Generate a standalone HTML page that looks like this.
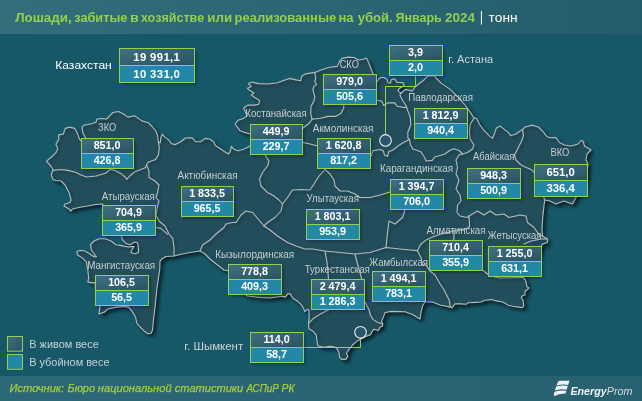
<!DOCTYPE html>
<html><head><meta charset="utf-8"><title>map</title>
<style>
html,body{margin:0;padding:0;background:#165868;}
body{width:642px;height:401px;overflow:hidden;font-family:"Liberation Sans",sans-serif;}
svg{display:block}
text{font-family:"Liberation Sans",sans-serif;}
text{opacity:0.999}
</style></head><body>
<svg width="642" height="401" viewBox="0 0 642 401">
<defs>
<linearGradient id="bgg" x1="0" y1="0" x2="1" y2="0"><stop offset="0" stop-color="#165868"/><stop offset="1" stop-color="#165868"/></linearGradient>
<linearGradient id="hdr" x1="0" y1="0" x2="1" y2="0"><stop offset="0" stop-color="#346e7a"/><stop offset="1" stop-color="#245c6b"/></linearGradient>
<linearGradient id="ftr" x1="0" y1="0" x2="1" y2="0"><stop offset="0" stop-color="#2c6878"/><stop offset="1" stop-color="#28606f"/></linearGradient>
<linearGradient id="top" x1="0" y1="0" x2="1" y2="1"><stop offset="0" stop-color="#3f7080"/><stop offset="1" stop-color="#285363"/></linearGradient>
<filter id="sh" x="-5%" y="-5%" width="112%" height="112%"><feGaussianBlur in="SourceAlpha" stdDeviation="2.2"/><feOffset dx="2.5" dy="2.5"/><feComponentTransfer><feFuncA type="linear" slope="0.6"/></feComponentTransfer><feMerge><feMergeNode/><feMergeNode in="SourceGraphic"/></feMerge></filter>
<filter id="sh2" x="-20%" y="-20%" width="150%" height="150%"><feGaussianBlur in="SourceAlpha" stdDeviation="1.5"/><feOffset dx="1.8" dy="1.8"/><feComponentTransfer><feFuncA type="linear" slope="0.3"/></feComponentTransfer><feMerge><feMergeNode/><feMergeNode in="SourceGraphic"/></feMerge></filter>
</defs>
<rect width="642" height="401" fill="url(#bgg)"/>
<rect width="642" height="34" fill="url(#hdr)"/>
<rect y="376" width="642" height="25" fill="url(#ftr)"/>

<g filter="url(#sh)"><polygon points="46.5,161.1 51.2,157.3 55.9,152.7 57.8,148.9 55.9,144.3 58.7,139.6 58.7,134.9 63.4,134 65.2,128.4 69.9,127.1 74.6,128.4 77.4,133 79.3,138.6 81.5,141.4 84.5,141.5 85.8,138.3 83,133 82,127.4 83.9,125.2 91.4,123.7 96.1,122.2 97,119 101.7,118.5 106.4,119 110.1,115.3 112.9,112.5 118.5,111.5 124.1,114.3 127.9,117.1 134.4,115.8 138.1,118.1 141.9,120.9 148.4,122.8 152.1,126.5 155.9,131.2 157.5,135.2 158.4,141.8 160.3,142.7 160.8,138 162.1,134.3 165,137.1 168.7,139.9 171.5,143.6 175.2,144.6 180.8,141.8 185.5,138 192.1,137.7 195.8,141.8 200.5,141.8 205.1,138.4 209.8,139 213.6,141.8 215.4,145.5 221,149.3 226.6,153 228.5,153.9 230.4,151.1 231.3,146.4 234.1,149.3 237.9,150.7 243.5,149.3 249.1,146.4 251,145.5 252,140 251,134.3 244.4,132.4 239.7,130.6 237.9,127.8 235,124 237.9,120.3 243.5,118.4 247.2,115.6 245.3,111.9 243.7,108 247.5,105.1 254,105.1 258.7,104.2 259.6,100.5 255,97.7 251.2,94.9 254,93 249.3,90.2 247.5,88.3 251.2,86.4 248.4,83.6 252.1,82.1 258.7,83.6 268,84 277.4,82.7 284.9,79.9 289.5,78.4 296.1,79.9 300.7,80.8 301.7,76.2 305.4,73.9 314.8,72.4 322.2,69.6 329.7,67.2 337.2,66.4 339.1,62.1 341.9,58.4 348.4,57.1 354,57.5 359,60 364,59 366,58 367.5,60 370.6,67.5 372.5,72.5 375,77 377,82 378.75,78.75 381,77.5 384,77.5 387,79.4 388,82.5 390.6,83 391,80 394,78.75 395.6,80 397,82.5 402.5,82.5 404,84 403.75,86 400,88 398,90 399,92 401,93 405.6,89.4 408,90 410.6,90.6 412.5,91 415,87 417.5,85 420,83 424,80 426,77.5 429,76 435,76 435.6,77.5 441.2,83.1 450.6,89.6 458,97.1 465.5,105.5 470.2,112.1 473.9,117.7 476.7,118.6 479.5,124.2 484.2,130.7 489.8,136.4 492.6,138.2 494.5,133.6 496.4,127.9 500.1,126.1 503.8,128.9 508.5,132.6 510.4,135.4 515,134.5 519.7,131.3 522.5,129.4 525.3,127 531.9,125.1 538.4,127 543.1,131.7 546.8,136.4 550,137.7 556,137.5 559.5,142.5 564.5,145 571,146 578,144 581,140.5 583,141 584.5,146 589.5,149 591,150 587,154 586,160 588,164 586,180 580,192 576,197.5 572.5,204 564,201 556,204 550,201 545,200 544,205 542.5,220 542,230 542.5,236 547.5,239 547.5,242.5 542.5,244 541,247 535,262 522.5,277 525.6,280 526,281.9 526.9,286.5 528.8,287.9 527.8,289.3 525,291.2 525,295 522.2,295.9 521.3,297.8 523.2,300.6 523.7,306.2 522.2,307.7 518.5,307.1 512.9,306.2 508.2,305.2 505.4,303.4 502.6,302 496,300.9 492.3,299.6 484.9,300.2 481.1,302 475.5,302.4 468,302.8 466.2,304.3 460.6,303.9 455,303.9 452.1,307.7 450.3,307.1 445,306 440,305 432.5,302 425,302 422.5,306 421,312.5 420,319 412.5,314.5 405,311.8 400,311.6 390.4,311.4 384.9,312.7 383.5,316.9 381.4,321.7 382.8,323.7 382.4,326.2 380.1,327.1 378,330.6 373.9,329.2 371.8,331.9 370.5,334.7 367,336.1 362.9,338.1 357.4,340.9 352.6,345 349.2,349.1 346.5,353.2 347.8,356.6 345.8,359.4 341.7,359.4 339.6,357.3 338.9,352.5 336.9,348.4 334.1,346.8 330,346.4 323.4,347.3 317.8,345.7 317,340.9 316.2,335.2 312.9,331.2 308.9,328.7 308.5,323.1 309.2,317.4 308.9,310.1 307.2,309.3 304.8,311.7 304,309.3 301.6,305.2 297.5,301.2 292.7,298 290.2,293.9 287.8,293.9 285.4,297.1 282.1,296.3 270,298 260,297.5 247.5,296 240,290 234,280 229,271 224,270 217.5,265 210,259 205,254 200,251 190,252.5 180,254.5 174,256 166,256.5 162.5,258.4 160,261 159.7,270 158.8,275.6 156.9,288.7 155,307.4 153.2,322.3 152.6,329.8 151.3,333.2 147.6,333.6 143.8,330.7 140.1,327 136.9,323.3 135.4,316.7 132.6,312.1 128.9,307.4 124.2,306.4 114.9,307.4 107.4,309.3 104.6,312.1 99,313.9 99.9,306.4 96,303 95.2,283.1 87.8,282.1 88.7,278.4 87.8,270 86.3,261.8 82.8,258.4 77.7,255 76.8,252 79.4,250.4 84.5,250.7 88.8,253.3 94,256.7 96.5,256.7 94.8,255 91.4,249.8 90.5,244.7 94,241 99,238.7 105,238.7 111,241 116,244.7 121.4,245.6 128,247 134,246.4 132.5,249 130.8,252.4 135,253.8 138.5,252.4 138.5,249 137.7,243 135,242 130,244.7 126.5,243.8 122.3,239.6 121.4,236 115,220 102.5,204 96,204.5 87.5,206 79,207.5 72.5,209 71,211 69,209 64,206 65,204 70,202.5 71,200 69,192.5 65,185 61,181 56,180.5 53.1,179.8 51.2,175.1 52.1,172.3 53.1,169.5 50.3,165.7" fill="#204e5a"/></g>
<g fill="none" stroke="#b3bab9" stroke-width="1.1" stroke-linejoin="round" stroke-linecap="round" filter="url(#sh2)">
<polygon points="46.5,161.1 51.2,157.3 55.9,152.7 57.8,148.9 55.9,144.3 58.7,139.6 58.7,134.9 63.4,134 65.2,128.4 69.9,127.1 74.6,128.4 77.4,133 79.3,138.6 81.5,141.4 84.5,141.5 85.8,138.3 83,133 82,127.4 83.9,125.2 91.4,123.7 96.1,122.2 97,119 101.7,118.5 106.4,119 110.1,115.3 112.9,112.5 118.5,111.5 124.1,114.3 127.9,117.1 134.4,115.8 138.1,118.1 141.9,120.9 148.4,122.8 152.1,126.5 155.9,131.2 157.5,135.2 158.4,141.8 160.3,142.7 160.8,138 162.1,134.3 165,137.1 168.7,139.9 171.5,143.6 175.2,144.6 180.8,141.8 185.5,138 192.1,137.7 195.8,141.8 200.5,141.8 205.1,138.4 209.8,139 213.6,141.8 215.4,145.5 221,149.3 226.6,153 228.5,153.9 230.4,151.1 231.3,146.4 234.1,149.3 237.9,150.7 243.5,149.3 249.1,146.4 251,145.5 252,140 251,134.3 244.4,132.4 239.7,130.6 237.9,127.8 235,124 237.9,120.3 243.5,118.4 247.2,115.6 245.3,111.9 243.7,108 247.5,105.1 254,105.1 258.7,104.2 259.6,100.5 255,97.7 251.2,94.9 254,93 249.3,90.2 247.5,88.3 251.2,86.4 248.4,83.6 252.1,82.1 258.7,83.6 268,84 277.4,82.7 284.9,79.9 289.5,78.4 296.1,79.9 300.7,80.8 301.7,76.2 305.4,73.9 314.8,72.4 322.2,69.6 329.7,67.2 337.2,66.4 339.1,62.1 341.9,58.4 348.4,57.1 354,57.5 359,60 364,59 366,58 367.5,60 370.6,67.5 372.5,72.5 375,77 377,82 378.75,78.75 381,77.5 384,77.5 387,79.4 388,82.5 390.6,83 391,80 394,78.75 395.6,80 397,82.5 402.5,82.5 404,84 403.75,86 400,88 398,90 399,92 401,93 405.6,89.4 408,90 410.6,90.6 412.5,91 415,87 417.5,85 420,83 424,80 426,77.5 429,76 435,76 435.6,77.5 441.2,83.1 450.6,89.6 458,97.1 465.5,105.5 470.2,112.1 473.9,117.7 476.7,118.6 479.5,124.2 484.2,130.7 489.8,136.4 492.6,138.2 494.5,133.6 496.4,127.9 500.1,126.1 503.8,128.9 508.5,132.6 510.4,135.4 515,134.5 519.7,131.3 522.5,129.4 525.3,127 531.9,125.1 538.4,127 543.1,131.7 546.8,136.4 550,137.7 556,137.5 559.5,142.5 564.5,145 571,146 578,144 581,140.5 583,141 584.5,146 589.5,149 591,150 587,154 586,160 588,164 586,180 580,192 576,197.5 572.5,204 564,201 556,204 550,201 545,200 544,205 542.5,220 542,230 542.5,236 547.5,239 547.5,242.5 542.5,244 541,247 535,262 522.5,277 525.6,280 526,281.9 526.9,286.5 528.8,287.9 527.8,289.3 525,291.2 525,295 522.2,295.9 521.3,297.8 523.2,300.6 523.7,306.2 522.2,307.7 518.5,307.1 512.9,306.2 508.2,305.2 505.4,303.4 502.6,302 496,300.9 492.3,299.6 484.9,300.2 481.1,302 475.5,302.4 468,302.8 466.2,304.3 460.6,303.9 455,303.9 452.1,307.7 450.3,307.1 445,306 440,305 432.5,302 425,302 422.5,306 421,312.5 420,319 412.5,314.5 405,311.8 400,311.6 390.4,311.4 384.9,312.7 383.5,316.9 381.4,321.7 382.8,323.7 382.4,326.2 380.1,327.1 378,330.6 373.9,329.2 371.8,331.9 370.5,334.7 367,336.1 362.9,338.1 357.4,340.9 352.6,345 349.2,349.1 346.5,353.2 347.8,356.6 345.8,359.4 341.7,359.4 339.6,357.3 338.9,352.5 336.9,348.4 334.1,346.8 330,346.4 323.4,347.3 317.8,345.7 317,340.9 316.2,335.2 312.9,331.2 308.9,328.7 308.5,323.1 309.2,317.4 308.9,310.1 307.2,309.3 304.8,311.7 304,309.3 301.6,305.2 297.5,301.2 292.7,298 290.2,293.9 287.8,293.9 285.4,297.1 282.1,296.3 270,298 260,297.5 247.5,296 240,290 234,280 229,271 224,270 217.5,265 210,259 205,254 200,251 190,252.5 180,254.5 174,256 166,256.5 162.5,258.4 160,261 159.7,270 158.8,275.6 156.9,288.7 155,307.4 153.2,322.3 152.6,329.8 151.3,333.2 147.6,333.6 143.8,330.7 140.1,327 136.9,323.3 135.4,316.7 132.6,312.1 128.9,307.4 124.2,306.4 114.9,307.4 107.4,309.3 104.6,312.1 99,313.9 99.9,306.4 96,303 95.2,283.1 87.8,282.1 88.7,278.4 87.8,270 86.3,261.8 82.8,258.4 77.7,255 76.8,252 79.4,250.4 84.5,250.7 88.8,253.3 94,256.7 96.5,256.7 94.8,255 91.4,249.8 90.5,244.7 94,241 99,238.7 105,238.7 111,241 116,244.7 121.4,245.6 128,247 134,246.4 132.5,249 130.8,252.4 135,253.8 138.5,252.4 138.5,249 137.7,243 135,242 130,244.7 126.5,243.8 122.3,239.6 121.4,236 115,220 102.5,204 96,204.5 87.5,206 79,207.5 72.5,209 71,211 69,209 64,206 65,204 70,202.5 71,200 69,192.5 65,185 61,181 56,180.5 53.1,179.8 51.2,175.1 52.1,172.3 53.1,169.5 50.3,165.7"/>
<polyline points="53.1,170.4 60.6,169.5 68,170.4 75.5,172.3 81.1,175.1 86.7,177 96.1,176 105.4,173.2 110.1,169.5 114.8,170.4 120.4,173.2 125,177 126.9,179.4 129.7,176 135.3,171.4 140.9,169.5 145.6,167.6 146.5,164.8 148,162.5 150,161.4 155.6,159.5 158.4,154.9 159.3,147.4 158.4,141.8"/>
<polyline points="146.5,164.8 149,171 149,177.5 155,181 159,185 157.5,192.5 156,197.5 159,201 157.5,206 156,215 159,221 165,226 169,234 172.8,238.7 174,247.5 174,256"/>
<polyline points="156,227.5 160.8,228.4 167.7,234.4"/>
<polyline points="265,155 269,161 267.5,166 262.5,172.5 259.5,179 261,186 267.5,192.5 274,196 279,200 282.5,204"/>
<polyline points="282.5,204 287.5,197.5 292.5,190 301,189.5 310,190 314,184 319,176 325,169.5"/>
<polyline points="325,169.5 330,174 334,180 335,186 340,191 347.5,191 355,194 360,197.5 370,197.5 380,195 390,192 400,200 405,210 402.5,217.5 395,224 389,221 387.5,232.5 386,247.5"/>
<polyline points="282.5,204 281,211 275,217.5 267.5,222.5 264,226"/>
<polyline points="264,226 259,220 252.5,212.5 246,211 241,215 236,222.5 232.5,222.5 226,224 224,227.5 216,234 210,240 202.5,245 200,251"/>
<polyline points="264,226 270,230 277.5,236 287.5,242.5 296,246 305,249 312.5,249 325,251 340,252.5 355,254 370,252.5 386,247.5 400,249 410,250 417.7,250.6 420.5,244.5 426.1,239.9 433.6,236.5 441,233.9 448.5,232.4 454.1,230.5 461.6,229.6 467.2,228.3 469.6,226.8 469.1,217.4"/>
<polyline points="454.1,230.5 453.7,241 462,258 482.5,270 490,276 500,278 522.5,277.5"/>
<polyline points="462.5,154 459,155 456,160 457.5,167.5 456,174 459,180 456,189 460,195 461,201 457.5,205 457,212.5 460,216 467.5,217.5 469,216"/>
<polyline points="469,216 477.5,211 484,215 490,211 496,215 504,214 509,217.5 520,215 526,216 527.5,222.5 534,227.5 537.5,232.5 540,236 542.5,236"/>
<polyline points="524,244 531,241 541,239 547.5,239"/>
<polyline points="473.9,118.2 470.2,124.2 469.3,131.7 470.2,139.2 473.9,144.8 472.5,149 467.5,152.5 462.5,154"/>
<polyline points="409.5,139.5 410.4,144.7 413,149.1 420.8,151.7 424.3,157 426.1,161 432.2,160.4 434.8,157 444.4,154.3 450.5,150 454,148.8 459.2,150.5 462.5,154"/>
<polyline points="401,93 399.9,95 402.5,100.2 406,105.5 407.8,110.7 410.4,117.7 410.7,124.7 407.8,132.5 407.8,137.8 409.5,139.5"/>
<polyline points="409.5,139.5 402.5,143 397.3,146.5 392.9,150 388.6,151.7 387.7,156.1 384.5,155.2 383.3,150.8 379.8,149.5 372.9,150.8 371.1,156.1"/>
<polyline points="377.2,100.2 381.6,101.1 383.8,105.5 387.7,102.9 394.7,102.9 397.3,106.3 405.1,107.6 406.5,107"/>
<polyline points="343.7,105.1 343.7,107.9 340.9,113.6 335.3,116.4 327.9,116.4 320.4,118.2 312,119.2"/>
<polyline points="314.8,72.4 315.7,78 314.8,81.8 316.6,84.6 313.8,86.4 312.9,90.2 314.8,96.7 313.8,101.4 311,106.1 310.7,113.6 312,119.2"/>
<polyline points="312,119.2 310.1,122 307.3,124.8 303,128 300,135 303,142.5 310,144 317.5,146"/>
<polyline points="522.5,129.4 523.5,135.4 521.6,141 519.7,144.8 514.5,155 516,160 520,164 523,166 532,170 540,180 544.5,200"/>
<polyline points="325,251 327,262.5 328,272.5 328.5,279.5 328,300 328.3,310.1 320.2,314.1 313.7,318.2 309.7,322.2 308.5,323.1"/>
<polyline points="355,254 357.5,264 360,272.5 362,280 364,300 369.1,310 370.5,315.5 373.2,319.6 377.3,322.3 381.4,323.7"/>
<polyline points="417.5,251 421,257.5 422.5,265 426,265 430,271 435,275 440,283.7 443.7,289.3 447.5,296.8 449.3,300.6 450.3,307.1"/>
</g>
<g fill="none" stroke="#92d050" stroke-width="1"><polyline points="415.5,75.5 415.5,86.5 385.5,86.5 385.5,134.5"/><polyline points="304,347.5 360.5,347.5 360.5,338.5"/></g>
<circle cx="385.5" cy="140.4" r="5.8" fill="#27566a" stroke="#e6ecee" stroke-width="1.1"/>
<circle cx="360.5" cy="332.3" r="5.8" fill="#27566a" stroke="#e6ecee" stroke-width="1.1"/>
<text x="55.25" y="68.5" font-size="11.8" fill="#ffffff" textLength="56.53" lengthAdjust="spacingAndGlyphs">Казахстан</text>
<text x="98.08" y="131" font-size="10.2" fill="#c6cdcf" textLength="18.09" lengthAdjust="spacingAndGlyphs">ЗКО</text>
<text x="245.36" y="116.8" font-size="10.2" fill="#c6cdcf" textLength="61.28" lengthAdjust="spacingAndGlyphs">Костанайская</text>
<text x="339.67" y="67.7" font-size="10.2" fill="#c6cdcf" textLength="19.19" lengthAdjust="spacingAndGlyphs">СКО</text>
<text x="448.3" y="63.1" font-size="10.8" fill="#cdd4d7" textLength="44.8" lengthAdjust="spacingAndGlyphs">г. Астана</text>
<text x="408.3" y="100.7" font-size="10.2" fill="#c6cdcf" textLength="64.63" lengthAdjust="spacingAndGlyphs">Павлодарская</text>
<text x="312.8" y="132" font-size="10.2" fill="#c6cdcf" textLength="60.69" lengthAdjust="spacingAndGlyphs">Акмолинская</text>
<text x="473.0" y="160.4" font-size="10.2" fill="#c6cdcf" textLength="41.48" lengthAdjust="spacingAndGlyphs">Абайская</text>
<text x="550.43" y="155.7" font-size="10.2" fill="#c6cdcf" textLength="18.96" lengthAdjust="spacingAndGlyphs">ВКО</text>
<text x="379.98" y="171.5" font-size="10.2" fill="#c6cdcf" textLength="73.17" lengthAdjust="spacingAndGlyphs">Карагандинская</text>
<text x="177.59" y="178.6" font-size="10.2" fill="#c6cdcf" textLength="59.93" lengthAdjust="spacingAndGlyphs">Актюбинская</text>
<text x="101.72" y="199.5" font-size="10.2" fill="#c6cdcf" textLength="53.08" lengthAdjust="spacingAndGlyphs">Атырауская</text>
<text x="306.5" y="201.8" font-size="10.2" fill="#c6cdcf" textLength="52.43" lengthAdjust="spacingAndGlyphs">Улытауская</text>
<text x="426.52" y="233.7" font-size="10.2" fill="#c6cdcf" textLength="58.95" lengthAdjust="spacingAndGlyphs">Алматинская</text>
<text x="487.85" y="238.7" font-size="10.2" fill="#c6cdcf" textLength="53.64" lengthAdjust="spacingAndGlyphs">Жетысуская</text>
<text x="369.13" y="265.7" font-size="10.2" fill="#c6cdcf" textLength="58.89" lengthAdjust="spacingAndGlyphs">Жамбылская</text>
<text x="304.66" y="273" font-size="10.2" fill="#c6cdcf" textLength="65.22" lengthAdjust="spacingAndGlyphs">Туркестанская</text>
<text x="215.25" y="257.5" font-size="10.2" fill="#c6cdcf" textLength="78.98" lengthAdjust="spacingAndGlyphs">Кызылординская</text>
<text x="87.3" y="269" font-size="10.2" fill="#c6cdcf" textLength="67.86" lengthAdjust="spacingAndGlyphs">Мангистауская</text>
<text x="184.33" y="350.3" font-size="10.8" fill="#cdd4d7" textLength="58.86" lengthAdjust="spacingAndGlyphs">г. Шымкент</text>
<g filter="url(#sh2)"><rect x="119.5" y="48.5" width="75.0" height="17.0" fill="url(#top)"/><rect x="119.5" y="65.5" width="75.0" height="17.0" fill="#2088a5"/></g>
<rect x="119.5" y="48.5" width="75.0" height="34.0" fill="none" stroke="#92d050" stroke-width="1"/><line x1="119.5" y1="65.5" x2="194.5" y2="65.5" stroke="#92d050" stroke-width="1"/>
<text x="156.6" y="61.1" font-size="11.3" font-weight="bold" fill="#fff" text-anchor="middle" textLength="46.6" lengthAdjust="spacing">19 991,1</text>
<text x="156.6" y="78.1" font-size="11.3" font-weight="bold" fill="#fff" text-anchor="middle" textLength="46.6" lengthAdjust="spacing">10 331,0</text>
<g filter="url(#sh2)"><rect x="389.5" y="45.5" width="53.0" height="15.0" fill="url(#top)"/><rect x="389.5" y="60.5" width="53.0" height="15.0" fill="#2088a5"/></g>
<rect x="389.5" y="45.5" width="53.0" height="30.0" fill="none" stroke="#92d050" stroke-width="1"/><line x1="389.5" y1="60.5" x2="442.5" y2="60.5" stroke="#92d050" stroke-width="1"/>
<text x="415.6" y="56.1" font-size="10.75" font-weight="bold" fill="#fff" text-anchor="middle">3,9</text>
<text x="415.6" y="71.1" font-size="10.75" font-weight="bold" fill="#fff" text-anchor="middle">2,0</text>
<g filter="url(#sh2)"><rect x="323.5" y="74.5" width="53.0" height="15.0" fill="url(#top)"/><rect x="323.5" y="89.5" width="53.0" height="15.0" fill="#2088a5"/></g>
<rect x="323.5" y="74.5" width="53.0" height="30.0" fill="none" stroke="#92d050" stroke-width="1"/><line x1="323.5" y1="89.5" x2="376.5" y2="89.5" stroke="#92d050" stroke-width="1"/>
<text x="349.6" y="85.1" font-size="10.75" font-weight="bold" fill="#fff" text-anchor="middle">979,0</text>
<text x="349.6" y="100.1" font-size="10.75" font-weight="bold" fill="#fff" text-anchor="middle">505,6</text>
<g filter="url(#sh2)"><rect x="414.5" y="108.5" width="53.0" height="15.0" fill="url(#top)"/><rect x="414.5" y="123.5" width="53.0" height="15.0" fill="#2088a5"/></g>
<rect x="414.5" y="108.5" width="53.0" height="30.0" fill="none" stroke="#92d050" stroke-width="1"/><line x1="414.5" y1="123.5" x2="467.5" y2="123.5" stroke="#92d050" stroke-width="1"/>
<text x="440.6" y="119.1" font-size="10.75" font-weight="bold" fill="#fff" text-anchor="middle">1 812,9</text>
<text x="440.6" y="134.1" font-size="10.75" font-weight="bold" fill="#fff" text-anchor="middle">940,4</text>
<g filter="url(#sh2)"><rect x="250.5" y="124.5" width="52.0" height="15.0" fill="url(#top)"/><rect x="250.5" y="139.5" width="52.0" height="15.0" fill="#2088a5"/></g>
<rect x="250.5" y="124.5" width="52.0" height="30.0" fill="none" stroke="#92d050" stroke-width="1"/><line x1="250.5" y1="139.5" x2="302.5" y2="139.5" stroke="#92d050" stroke-width="1"/>
<text x="276.1" y="135.1" font-size="10.75" font-weight="bold" fill="#fff" text-anchor="middle">449,9</text>
<text x="276.1" y="150.1" font-size="10.75" font-weight="bold" fill="#fff" text-anchor="middle">229,7</text>
<g filter="url(#sh2)"><rect x="317.5" y="138.5" width="53.0" height="15.0" fill="url(#top)"/><rect x="317.5" y="153.5" width="53.0" height="15.0" fill="#2088a5"/></g>
<rect x="317.5" y="138.5" width="53.0" height="30.0" fill="none" stroke="#92d050" stroke-width="1"/><line x1="317.5" y1="153.5" x2="370.5" y2="153.5" stroke="#92d050" stroke-width="1"/>
<text x="343.6" y="149.1" font-size="10.75" font-weight="bold" fill="#fff" text-anchor="middle">1 620,8</text>
<text x="343.6" y="164.1" font-size="10.75" font-weight="bold" fill="#fff" text-anchor="middle">817,2</text>
<g filter="url(#sh2)"><rect x="81.5" y="138.5" width="52.0" height="15.0" fill="url(#top)"/><rect x="81.5" y="153.5" width="52.0" height="15.0" fill="#2088a5"/></g>
<rect x="81.5" y="138.5" width="52.0" height="30.0" fill="none" stroke="#92d050" stroke-width="1"/><line x1="81.5" y1="153.5" x2="133.5" y2="153.5" stroke="#92d050" stroke-width="1"/>
<text x="107.1" y="149.1" font-size="10.75" font-weight="bold" fill="#fff" text-anchor="middle">851,0</text>
<text x="107.1" y="164.1" font-size="10.75" font-weight="bold" fill="#fff" text-anchor="middle">426,8</text>
<g filter="url(#sh2)"><rect x="467.5" y="168.5" width="53.0" height="15.0" fill="url(#top)"/><rect x="467.5" y="183.5" width="53.0" height="15.0" fill="#2088a5"/></g>
<rect x="467.5" y="168.5" width="53.0" height="30.0" fill="none" stroke="#92d050" stroke-width="1"/><line x1="467.5" y1="183.5" x2="520.5" y2="183.5" stroke="#92d050" stroke-width="1"/>
<text x="493.6" y="179.1" font-size="10.75" font-weight="bold" fill="#fff" text-anchor="middle">948,3</text>
<text x="493.6" y="194.1" font-size="10.75" font-weight="bold" fill="#fff" text-anchor="middle">500,9</text>
<g filter="url(#sh2)"><rect x="534.5" y="164.5" width="53.0" height="16.0" fill="url(#top)"/><rect x="534.5" y="180.5" width="53.0" height="16.0" fill="#2088a5"/></g>
<rect x="534.5" y="164.5" width="53.0" height="32.0" fill="none" stroke="#92d050" stroke-width="1"/><line x1="534.5" y1="180.5" x2="587.5" y2="180.5" stroke="#92d050" stroke-width="1"/>
<text x="560.6" y="176.1" font-size="11.3" font-weight="bold" fill="#fff" text-anchor="middle">651,0</text>
<text x="560.6" y="192.1" font-size="11.3" font-weight="bold" fill="#fff" text-anchor="middle">336,4</text>
<g filter="url(#sh2)"><rect x="390.5" y="179.5" width="53.0" height="15.0" fill="url(#top)"/><rect x="390.5" y="194.5" width="53.0" height="15.0" fill="#2088a5"/></g>
<rect x="390.5" y="179.5" width="53.0" height="30.0" fill="none" stroke="#92d050" stroke-width="1"/><line x1="390.5" y1="194.5" x2="443.5" y2="194.5" stroke="#92d050" stroke-width="1"/>
<text x="416.6" y="190.1" font-size="10.75" font-weight="bold" fill="#fff" text-anchor="middle">1 394,7</text>
<text x="416.6" y="205.1" font-size="10.75" font-weight="bold" fill="#fff" text-anchor="middle">706,0</text>
<g filter="url(#sh2)"><rect x="181.5" y="186.5" width="52.0" height="15.0" fill="url(#top)"/><rect x="181.5" y="201.5" width="52.0" height="15.0" fill="#2088a5"/></g>
<rect x="181.5" y="186.5" width="52.0" height="30.0" fill="none" stroke="#92d050" stroke-width="1"/><line x1="181.5" y1="201.5" x2="233.5" y2="201.5" stroke="#92d050" stroke-width="1"/>
<text x="207.1" y="197.1" font-size="10.75" font-weight="bold" fill="#fff" text-anchor="middle">1 833,5</text>
<text x="207.1" y="212.1" font-size="10.75" font-weight="bold" fill="#fff" text-anchor="middle">965,5</text>
<g filter="url(#sh2)"><rect x="102.5" y="205.5" width="53.0" height="15.0" fill="url(#top)"/><rect x="102.5" y="220.5" width="53.0" height="15.0" fill="#2088a5"/></g>
<rect x="102.5" y="205.5" width="53.0" height="30.0" fill="none" stroke="#92d050" stroke-width="1"/><line x1="102.5" y1="220.5" x2="155.5" y2="220.5" stroke="#92d050" stroke-width="1"/>
<text x="128.6" y="216.1" font-size="10.75" font-weight="bold" fill="#fff" text-anchor="middle">704,9</text>
<text x="128.6" y="231.1" font-size="10.75" font-weight="bold" fill="#fff" text-anchor="middle">365,9</text>
<g filter="url(#sh2)"><rect x="306.5" y="209.5" width="53.0" height="15.0" fill="url(#top)"/><rect x="306.5" y="224.5" width="53.0" height="15.0" fill="#2088a5"/></g>
<rect x="306.5" y="209.5" width="53.0" height="30.0" fill="none" stroke="#92d050" stroke-width="1"/><line x1="306.5" y1="224.5" x2="359.5" y2="224.5" stroke="#92d050" stroke-width="1"/>
<text x="332.6" y="220.1" font-size="10.75" font-weight="bold" fill="#fff" text-anchor="middle">1 803,1</text>
<text x="332.6" y="235.1" font-size="10.75" font-weight="bold" fill="#fff" text-anchor="middle">953,9</text>
<g filter="url(#sh2)"><rect x="429.5" y="240.5" width="53.0" height="15.0" fill="url(#top)"/><rect x="429.5" y="255.5" width="53.0" height="15.0" fill="#2088a5"/></g>
<rect x="429.5" y="240.5" width="53.0" height="30.0" fill="none" stroke="#92d050" stroke-width="1"/><line x1="429.5" y1="255.5" x2="482.5" y2="255.5" stroke="#92d050" stroke-width="1"/>
<text x="455.6" y="251.1" font-size="10.75" font-weight="bold" fill="#fff" text-anchor="middle">710,4</text>
<text x="455.6" y="266.1" font-size="10.75" font-weight="bold" fill="#fff" text-anchor="middle">355,9</text>
<g filter="url(#sh2)"><rect x="488.5" y="246.5" width="53.0" height="15.0" fill="url(#top)"/><rect x="488.5" y="261.5" width="53.0" height="15.0" fill="#2088a5"/></g>
<rect x="488.5" y="246.5" width="53.0" height="30.0" fill="none" stroke="#92d050" stroke-width="1"/><line x1="488.5" y1="261.5" x2="541.5" y2="261.5" stroke="#92d050" stroke-width="1"/>
<text x="514.6" y="257.1" font-size="10.75" font-weight="bold" fill="#fff" text-anchor="middle">1 255,0</text>
<text x="514.6" y="272.1" font-size="10.75" font-weight="bold" fill="#fff" text-anchor="middle">631,1</text>
<g filter="url(#sh2)"><rect x="372.5" y="271.5" width="53.0" height="15.0" fill="url(#top)"/><rect x="372.5" y="286.5" width="53.0" height="15.0" fill="#2088a5"/></g>
<rect x="372.5" y="271.5" width="53.0" height="30.0" fill="none" stroke="#92d050" stroke-width="1"/><line x1="372.5" y1="286.5" x2="425.5" y2="286.5" stroke="#92d050" stroke-width="1"/>
<text x="398.6" y="282.1" font-size="10.75" font-weight="bold" fill="#fff" text-anchor="middle">1 494,1</text>
<text x="398.6" y="297.1" font-size="10.75" font-weight="bold" fill="#fff" text-anchor="middle">783,1</text>
<g filter="url(#sh2)"><rect x="311.5" y="279.5" width="53.0" height="15.0" fill="url(#top)"/><rect x="311.5" y="294.5" width="53.0" height="15.0" fill="#2088a5"/></g>
<rect x="311.5" y="279.5" width="53.0" height="30.0" fill="none" stroke="#92d050" stroke-width="1"/><line x1="311.5" y1="294.5" x2="364.5" y2="294.5" stroke="#92d050" stroke-width="1"/>
<text x="337.6" y="290.1" font-size="10.75" font-weight="bold" fill="#fff" text-anchor="middle">2 479,4</text>
<text x="337.6" y="305.1" font-size="10.75" font-weight="bold" fill="#fff" text-anchor="middle">1 286,3</text>
<g filter="url(#sh2)"><rect x="228.5" y="264.5" width="53.0" height="15.0" fill="url(#top)"/><rect x="228.5" y="279.5" width="53.0" height="15.0" fill="#2088a5"/></g>
<rect x="228.5" y="264.5" width="53.0" height="30.0" fill="none" stroke="#92d050" stroke-width="1"/><line x1="228.5" y1="279.5" x2="281.5" y2="279.5" stroke="#92d050" stroke-width="1"/>
<text x="254.6" y="275.1" font-size="10.75" font-weight="bold" fill="#fff" text-anchor="middle">778,8</text>
<text x="254.6" y="290.1" font-size="10.75" font-weight="bold" fill="#fff" text-anchor="middle">409,3</text>
<g filter="url(#sh2)"><rect x="95.5" y="275.5" width="53.0" height="15.0" fill="url(#top)"/><rect x="95.5" y="290.5" width="53.0" height="15.0" fill="#2088a5"/></g>
<rect x="95.5" y="275.5" width="53.0" height="30.0" fill="none" stroke="#92d050" stroke-width="1"/><line x1="95.5" y1="290.5" x2="148.5" y2="290.5" stroke="#92d050" stroke-width="1"/>
<text x="121.6" y="286.1" font-size="10.75" font-weight="bold" fill="#fff" text-anchor="middle">106,5</text>
<text x="121.6" y="301.1" font-size="10.75" font-weight="bold" fill="#fff" text-anchor="middle">56,5</text>
<g filter="url(#sh2)"><rect x="250.5" y="332.5" width="53.0" height="15.0" fill="url(#top)"/><rect x="250.5" y="347.5" width="53.0" height="15.0" fill="#2088a5"/></g>
<rect x="250.5" y="332.5" width="53.0" height="30.0" fill="none" stroke="#92d050" stroke-width="1"/><line x1="250.5" y1="347.5" x2="303.5" y2="347.5" stroke="#92d050" stroke-width="1"/>
<text x="276.6" y="343.1" font-size="10.75" font-weight="bold" fill="#fff" text-anchor="middle">114,0</text>
<text x="276.6" y="358.1" font-size="10.75" font-weight="bold" fill="#fff" text-anchor="middle">58,7</text>
<rect x="7.5" y="336.5" width="15" height="14.7" fill="url(#top)" stroke="#92d050" stroke-width="1"/>
<rect x="7.5" y="354.5" width="15" height="14.8" fill="#2088a5" stroke="#92d050" stroke-width="1"/>
<text x="29.2" y="348" font-size="10.6" fill="#c8d0d3" textLength="69.6" lengthAdjust="spacingAndGlyphs">В живом весе</text>
<text x="29.2" y="366.2" font-size="10.6" fill="#c8d0d3" textLength="80.3" lengthAdjust="spacingAndGlyphs">В убойном весе</text>
<text x="15.22" y="22.2" font-size="13.5" font-weight="bold" fill="#92d050" textLength="56.41" lengthAdjust="spacingAndGlyphs">Лошади,</text>
<text x="74.26" y="22.2" font-size="13.5" font-weight="bold" fill="#92d050" textLength="53.11" lengthAdjust="spacingAndGlyphs">забитые</text>
<text x="130.06" y="22.2" font-size="13.5" font-weight="bold" fill="#92d050" textLength="8.85" lengthAdjust="spacingAndGlyphs">в</text>
<text x="140.94" y="22.2" font-size="13.5" font-weight="bold" fill="#92d050" textLength="63.26" lengthAdjust="spacingAndGlyphs">хозяйстве</text>
<text x="207.22" y="22.2" font-size="13.5" font-weight="bold" fill="#92d050" textLength="25.02" lengthAdjust="spacingAndGlyphs">или</text>
<text x="234.59" y="22.2" font-size="13.5" font-weight="bold" fill="#92d050" textLength="101.6" lengthAdjust="spacingAndGlyphs">реализованные</text>
<text x="338.41" y="22.2" font-size="13.5" font-weight="bold" fill="#92d050" textLength="15.27" lengthAdjust="spacingAndGlyphs">на</text>
<text x="357.63" y="22.2" font-size="13.5" font-weight="bold" fill="#92d050" textLength="35.15" lengthAdjust="spacingAndGlyphs">убой.</text>
<text x="395.5" y="22.2" font-size="13.5" font-weight="bold" fill="#92d050" textLength="46.25" lengthAdjust="spacingAndGlyphs">Январь</text>
<text x="445.1" y="22.2" font-size="13.5" font-weight="bold" fill="#92d050" textLength="29.83" lengthAdjust="spacingAndGlyphs">2024</text>
<rect x="480.9" y="11" width="1.1" height="13.6" fill="#e8eef0"/>
<text x="488.63" y="22.2" font-size="12.8"  fill="#ffffff" textLength="28.9" lengthAdjust="spacingAndGlyphs">тонн</text>
<text x="9.5" y="392" font-size="11" font-style="italic" stroke="#a6ce3a" stroke-width="0.25" fill="#a6ce3a" textLength="54.69" lengthAdjust="spacingAndGlyphs">Источник:</text>
<text x="67.62" y="392" font-size="11" font-style="italic" stroke="#a6ce3a" stroke-width="0.25" fill="#a6ce3a" textLength="27.37" lengthAdjust="spacingAndGlyphs">Бюро</text>
<text x="97.86" y="392" font-size="11" font-style="italic" stroke="#a6ce3a" stroke-width="0.25" fill="#a6ce3a" textLength="73.72" lengthAdjust="spacingAndGlyphs">национальной</text>
<text x="174.83" y="392" font-size="11" font-style="italic" stroke="#a6ce3a" stroke-width="0.25" fill="#a6ce3a" textLength="68.39" lengthAdjust="spacingAndGlyphs">статистики</text>
<text x="246.58" y="392" font-size="11" font-style="italic" stroke="#a6ce3a" stroke-width="0.25" fill="#a6ce3a" textLength="32.19" lengthAdjust="spacingAndGlyphs">АСПиР</text>
<text x="281.53" y="392" font-size="11" font-style="italic" stroke="#a6ce3a" stroke-width="0.25" fill="#a6ce3a" textLength="13.01" lengthAdjust="spacingAndGlyphs">РК</text>
<g fill="#eef2f3"><path d="M558.2,381.6 Q558.8,380.8 560,380.8 L569.5,380.8 L568.1,384.9 Q562.5,383.9 556.4,385.5 Z"/><path d="M556.1,386.5 Q562,384.9 567.8,385.9 L566.6,389.7 Q561,388.7 554.9,390.6 Z"/><path d="M554.6,391.7 Q560.5,389.8 566.3,390.8 L565.6,393.6 Q559.5,393.4 553.9,396.2 Q553.6,394.5 554.6,391.7 Z"/></g>
<text x="570.4" y="394.7" font-size="11.8" font-style="italic" font-weight="bold" fill="#eef3f5" textLength="36.3" lengthAdjust="spacingAndGlyphs">Energy</text>
<text x="606.8" y="394.7" font-size="11.8" font-style="italic" fill="#d5dde0" textLength="25.6" lengthAdjust="spacingAndGlyphs">Prom</text>
</svg></body></html>
